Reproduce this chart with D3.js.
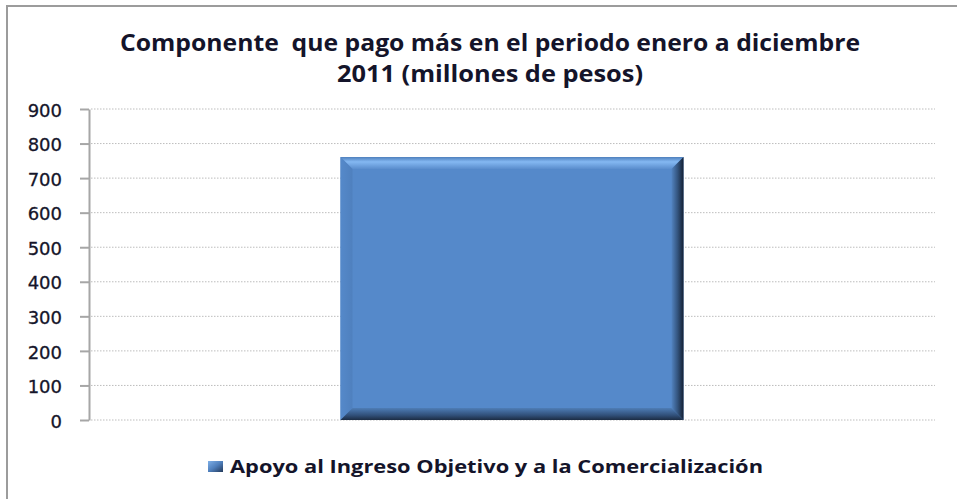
<!DOCTYPE html>
<html>
<head>
<meta charset="utf-8">
<script src="https://cdn.jsdelivr.net/npm/d3@7"></script>
<style>
  html, body { margin: 0; padding: 0; background: #fff; }
  svg { display: block; }
  text { font-family: "Open Sans", "Noto Sans", sans-serif; fill: #14142a; }
</style>
</head>
<body>
<div id="container"></div>
<script>
// data
const categories = ["Apoyo al Ingreso Objetivo y a la Comercialización"]
const values = [761]
const yTicks = [0, 100, 200, 300, 400, 500, 600, 700, 800, 900]
const titleLines = ["Componente  que pago más en el periodo enero a diciembre", "2011 (millones de pesos)"]
const seriesName = "Apoyo al Ingreso Objetivo y a la Comercialización"

const width = 957, height = 499
const margin = { top: 109, right: 22, bottom: 79, left: 89 }

const svg = d3.select("div#container")
    .append("svg")
    .attr("width", width)
    .attr("height", height)

// frame (right and bottom are cut off in the picture)
svg.append("path")
    .attr("d", `M7,${height} V6 H${width}`)
    .attr("fill", "none")
    .attr("stroke", "#9c9c9c")
    .attr("stroke-width", 2)

const x = d3.scaleBand()
    .domain(categories)
    .range([margin.left, width - margin.right])
    .padding(0.423)

const y = d3.scaleLinear()
    .domain([0, 900])
    .range([height - margin.bottom, margin.top])

// gridlines
svg.append("g")
    .selectAll("line")
    .data(yTicks)
    .enter()
    .append("line")
    .attr("x1", margin.left + 2)
    .attr("x2", width - margin.right)
    .attr("y1", d => y(d))
    .attr("y2", d => y(d))
    .attr("stroke", "#bdbdbd")
    .attr("stroke-width", 1)
    .attr("stroke-dasharray", "1.5,1.5")

// y axis
const yAxis = svg.append("g")
    .attr("transform", `translate(${margin.left},0)`)
    .call(d3.axisLeft(y).tickValues(yTicks).tickSize(9).tickSizeOuter(0).tickPadding(18))

yAxis.select(".domain").attr("stroke", "#a6a6a6").attr("stroke-width", 2)
yAxis.selectAll(".tick line").attr("stroke", "#a6a6a6").attr("stroke-width", 2)
yAxis.selectAll(".tick text")
    .style("font-family", "'DejaVu Sans', sans-serif")
    .style("font-size", "18px")
    .style("fill", "#15152a")
    .style("stroke", "#15152a")
    .style("stroke-width", 0.3)
    .attr("dy", "0.4em")

// gradients
const defs = svg.append("defs")
const grad = (id, x2, y2, stops) => {
    const g = defs.append("linearGradient").attr("id", id)
        .attr("x1", 0).attr("y1", 0).attr("x2", x2).attr("y2", y2)
    stops.forEach(s => g.append("stop").attr("offset", s[0]).attr("stop-color", s[1]))
}
grad("gTop", 0, 1, [[0, "#4f80bd"], [0.4, "#84b8f2"], [1, "#5a8dcd"]])
grad("gRight", 1, 0, [[0, "#5283c0"], [0.5, "#34557f"], [1, "#142033"]])
grad("gBottom", 0, 1, [[0, "#4e7db6"], [0.6, "#31507a"], [1, "#1c2c44"]])
grad("gLeft", 1, 0, [[0, "#5589ca"], [1, "#4f80be"]])
grad("gLegend", 1, 1, [[0, "#7fb0e8"], [0.5, "#4f7fbc"], [1, "#23395a"]])

// bar with bevel
const bv = 12
const bars = svg.append("g")
    .selectAll("g")
    .data(categories.map((c, i) => ({ c, v: values[i] })))
    .enter()
    .append("g")

bars.append("rect")
    .attr("x", d => x(d.c))
    .attr("y", d => y(d.v))
    .attr("width", x.bandwidth())
    .attr("height", d => y(0) - y(d.v))
    .attr("fill", "#5589ca")

bars.append("polygon")
    .attr("points", d => {
        const x0 = x(d.c), x1 = x0 + x.bandwidth(), t = y(d.v)
        return [[x0, t], [x1, t], [x1 - bv, t + bv], [x0 + bv, t + bv]].join(" ")
    })
    .attr("fill", "url(#gTop)")

bars.append("polygon")
    .attr("points", d => {
        const x0 = x(d.c), t = y(d.v), b = y(0)
        return [[x0, t], [x0 + bv, t + bv], [x0 + bv, b - bv], [x0, b]].join(" ")
    })
    .attr("fill", "url(#gLeft)")

bars.append("polygon")
    .attr("points", d => {
        const x0 = x(d.c), x1 = x0 + x.bandwidth(), b = y(0)
        return [[x0, b], [x0 + bv, b - bv], [x1 - bv, b - bv], [x1, b]].join(" ")
    })
    .attr("fill", "url(#gBottom)")

bars.append("polygon")
    .attr("points", d => {
        const x1 = x(d.c) + x.bandwidth(), t = y(d.v), b = y(0)
        return [[x1, t], [x1 - bv, t + bv], [x1 - bv, b - bv], [x1, b]].join(" ")
    })
    .attr("fill", "url(#gRight)")

// title
const titleWidths = [740, 306]
svg.append("g")
    .selectAll("text")
    .data(titleLines)
    .enter()
    .append("text")
    .attr("x", 490)
    .attr("y", (d, i) => 51 + i * 31)
    .attr("text-anchor", "middle")
    .attr("xml:space", "preserve")
    .style("white-space", "pre")
    .style("font-size", "22.5px")
    .style("font-weight", "bold")
    .attr("textLength", (d, i) => titleWidths[i])
    .attr("lengthAdjust", "spacingAndGlyphs")
    .text(d => d)

// legend
const legend = svg.append("g")
legend.append("rect")
    .attr("x", 208).attr("y", 461)
    .attr("width", 15).attr("height", 11)
    .attr("fill", "url(#gLegend)")
legend.append("text")
    .attr("x", 230)
    .attr("y", 473)
    .style("font-size", "18px")
    .style("font-weight", "bold")
    .attr("textLength", 533)
    .attr("lengthAdjust", "spacingAndGlyphs")
    .text(seriesName)
</script>
</body>
</html>
